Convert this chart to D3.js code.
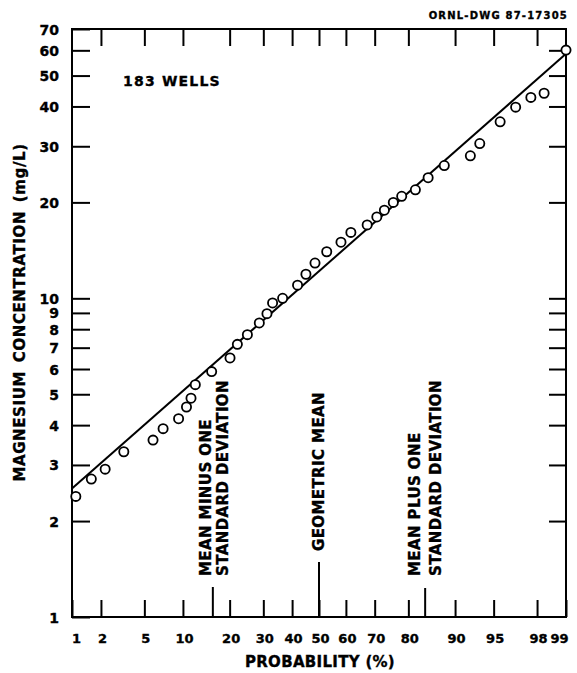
<!DOCTYPE html>
<html>
<head>
<meta charset="utf-8">
<script src="https://cdn.jsdelivr.net/npm/d3@7"></script>
<style>
  body { margin: 0; background: #fff; }
  text { font-family: "DejaVu Sans", sans-serif; font-weight: bold; fill: #000; stroke: #000; stroke-width: 0.35px; }
</style>
</head>
<body>
<svg id="chart" width="577" height="673"></svg>
<script>
// Cumulative probability (%) ticks on the bottom and top edges
const probTicks = [1, 2, 5, 10, 20, 30, 40, 50, 60, 70, 80, 90, 95, 98, 99];
const topProbTicks = [2, 5, 10, 20, 30, 40, 50, 60, 70, 80, 90, 95, 98];
// Concentration ticks (mg/L), log scale
const concTicks = [1, 2, 3, 4, 5, 6, 7, 8, 9, 10, 20, 30, 40, 50, 60, 70];
const concInnerTicks = [2, 3, 4, 5, 6, 7, 8, 9, 10, 20, 30, 40, 50, 60];

// Plotted wells: cumulative probability (%) and magnesium concentration (mg/L)
const wellProb = [1.1, 1.6, 2.2, 3.3, 5.9, 7.1, 9.3, 10.6, 11.4, 12.2, 15.6, 20.1, 22.1, 25.0,
  28.7, 31.2, 33.1, 36.6, 42.0, 45.1, 48.5, 52.9, 58.2, 61.8, 67.5, 70.7, 73.1, 75.8, 78.2,
  81.8, 84.8, 88.1, 92.3, 93.5, 95.6, 96.8, 97.7, 98.3, 99.0];
const wellConc = [2.39, 2.71, 2.91, 3.30, 3.59, 3.90, 4.19, 4.56, 4.86, 5.36, 5.89, 6.50, 7.17, 7.69,
  8.37, 8.95, 9.67, 10.0, 11.0, 11.9, 12.9, 14.0, 15.0, 16.1, 17.0, 18.0, 18.9, 20.0, 20.9,
  21.9, 23.9, 26.1, 28.0, 30.6, 35.8, 39.8, 42.7, 44.0, 60.1];

// Fitted lognormal line (end points)
const fitProb = [1, 99];
const fitConc = [2.53, 58.5];

// Reference markers along the probability axis
const markerProb = [15.87, 50, 84.13];
const markerLabels = [
  ["MEAN MINUS ONE", "STANDARD DEVIATION"],
  ["GEOMETRIC MEAN"],
  ["MEAN PLUS ONE", "STANDARD DEVIATION"]
];

// Inverse standard normal CDF (Acklam's rational approximation)
function probit(p) {
  const a = [-3.969683028665376e+01, 2.209460984245205e+02, -2.759285104469687e+02,
             1.383577518672690e+02, -3.066479806614716e+01, 2.506628277459239e+00];
  const b = [-5.447609879822406e+01, 1.615858368580409e+02, -1.556989798598866e+02,
             6.680131188771972e+01, -1.328068155288572e+01];
  const c = [-7.784894002430293e-03, -3.223964580411365e-01, -2.400758277161838e+00,
             -2.549732539343734e+00, 4.374664141464968e+00, 2.938163982698783e+00];
  const d = [7.784695709041462e-03, 3.224671290700398e-01, 2.445134137142996e+00,
             3.754408661907416e+00];
  const pl = 0.02425, ph = 1 - pl;
  let q, r;
  if (p < pl) {
    q = Math.sqrt(-2 * Math.log(p));
    return (((((c[0]*q+c[1])*q+c[2])*q+c[3])*q+c[4])*q+c[5]) / ((((d[0]*q+d[1])*q+d[2])*q+d[3])*q+1);
  }
  if (p <= ph) {
    q = p - 0.5; r = q * q;
    return (((((a[0]*r+a[1])*r+a[2])*r+a[3])*r+a[4])*r+a[5])*q / (((((b[0]*r+b[1])*r+b[2])*r+b[3])*r+b[4])*r+1);
  }
  q = Math.sqrt(-2 * Math.log(1 - p));
  return -(((((c[0]*q+c[1])*q+c[2])*q+c[3])*q+c[4])*q+c[5]) / ((((d[0]*q+d[1])*q+d[2])*q+d[3])*q+1);
}

const plotLeft = 72, plotRight = 566, plotTop = 29, plotBottom = 617;

// Normal-probability scale built on a linear z scale
const zScale = d3.scaleLinear().domain([probit(0.01), probit(0.99)]).range([plotLeft, plotRight]);
function x(p) { return zScale(probit(p / 100)); }
x.domain = () => [1, 99];
x.range = () => zScale.range();
x.copy = () => x;

const y = d3.scaleLog().domain([1, 70]).range([plotBottom, plotTop]);

const svg = d3.select("#chart");

// Bottom axis: ticks pointing into the plot
const gBottom = svg.append("g")
  .attr("transform", `translate(0,${plotBottom})`)
  .call(d3.axisBottom(x).tickValues(probTicks).tickSize(-17).tickSizeOuter(0)
    .tickFormat(d3.format("d")));
gBottom.select(".domain").remove();
gBottom.selectAll(".tick line").attr("stroke", "#000").attr("stroke-width", 2);
gBottom.selectAll(".tick text")
  .attr("y", 26).attr("dy", 0)
  .style("font-size", "13px")
  .attr("text-anchor", (d, i) => i === 0 ? "start" : (i === probTicks.length - 1 ? "end" : "middle"))
  .attr("dx", (d, i) => i === 0 ? -0.5 : (i === probTicks.length - 1 ? 2 : 1));

// Top axis: ticks hanging down, no labels
const gTop = svg.append("g")
  .attr("transform", `translate(0,${plotTop})`)
  .call(d3.axisTop(x).tickValues(topProbTicks).tickSize(-17).tickSizeOuter(0).tickFormat(""));
gTop.select(".domain").remove();
gTop.selectAll(".tick line").attr("stroke", "#000").attr("stroke-width", 2);

// Left axis with labels
const gLeft = svg.append("g")
  .attr("transform", `translate(${plotLeft},0)`)
  .call(d3.axisLeft(y).tickValues(concTicks).tickSize(-18).tickSizeOuter(0)
    .tickPadding(13).tickFormat(d3.format("d")));
gLeft.select(".domain").remove();
gLeft.selectAll(".tick line").attr("stroke", "#000").attr("stroke-width", 2);
gLeft.selectAll(".tick text").style("font-size", "14px").attr("dy", "0.36em");

// Right axis: ticks only
const gRight = svg.append("g")
  .attr("transform", `translate(${plotRight},0)`)
  .call(d3.axisRight(y).tickValues(concInnerTicks).tickSize(-17).tickSizeOuter(0).tickFormat(""));
gRight.select(".domain").remove();
gRight.selectAll(".tick line").attr("stroke", "#000").attr("stroke-width", 2);

// Frame
svg.append("rect")
  .attr("x", plotLeft).attr("y", plotTop)
  .attr("width", plotRight - plotLeft).attr("height", plotBottom - plotTop)
  .attr("fill", "none").attr("stroke", "#000").attr("stroke-width", 2);

// Marker ticks for mean -1 SD, geometric mean, mean +1 SD
const markerLen = [30, 55, 29];
svg.append("g").selectAll("line")
  .data(markerProb)
  .join("line")
  .attr("x1", d => x(d)).attr("x2", d => x(d))
  .attr("y1", plotBottom).attr("y2", (d, i) => plotBottom - markerLen[i])
  .attr("stroke", "#000").attr("stroke-width", 2);

// Marker captions, written vertically
const captionOffsets = [[-2, 15], [5], [-5, 16]];
const captionBase = [576, 551, 576];
markerLabels.forEach((lines, i) => {
  lines.forEach((txt, j) => {
    const cx = x(markerProb[i]) + captionOffsets[i][j];
    svg.append("text")
      .attr("transform", `translate(${cx},${captionBase[i]}) rotate(-90)`)
      .attr("text-anchor", "start")
      .style("font-size", "15px")
      .style("letter-spacing", "0.4px")
      .text(txt);
  });
});

// Fitted line
svg.append("path")
  .datum(fitProb.map((p, i) => [p, fitConc[i]]))
  .attr("d", d3.line().x(d => x(d[0])).y(d => y(d[1])))
  .attr("fill", "none").attr("stroke", "#000").attr("stroke-width", 2);

// Observed wells
svg.append("g").selectAll("circle")
  .data(wellProb.map((p, i) => [p, wellConc[i]]))
  .join("circle")
  .attr("cx", d => x(d[0])).attr("cy", d => y(d[1]))
  .attr("r", 4.6)
  .attr("fill", "#fff").attr("stroke", "#000").attr("stroke-width", 1.8);

// Annotation and titles
svg.append("text").attr("x", 123).attr("y", 86)
  .style("font-size", "14px").style("letter-spacing", "1.2px")
  .text("183 WELLS");

svg.append("text").attr("x", 568).attr("y", 18.5).attr("text-anchor", "end")
  .style("font-size", "10px").style("letter-spacing", "1.2px")
  .text("ORNL-DWG 87-17305");

svg.append("text").attr("x", 320).attr("y", 667).attr("text-anchor", "middle")
  .style("font-size", "15px").style("letter-spacing", "0.3px")
  .text("PROBABILITY (%)");

svg.append("text")
  .attr("transform", "translate(25,312.5) rotate(-90)")
  .attr("text-anchor", "middle")
  .style("font-size", "15px").style("letter-spacing", "0.6px").style("word-spacing", "3px")
  .text("MAGNESIUM CONCENTRATION (mg/L)");
</script>
</body>
</html>
